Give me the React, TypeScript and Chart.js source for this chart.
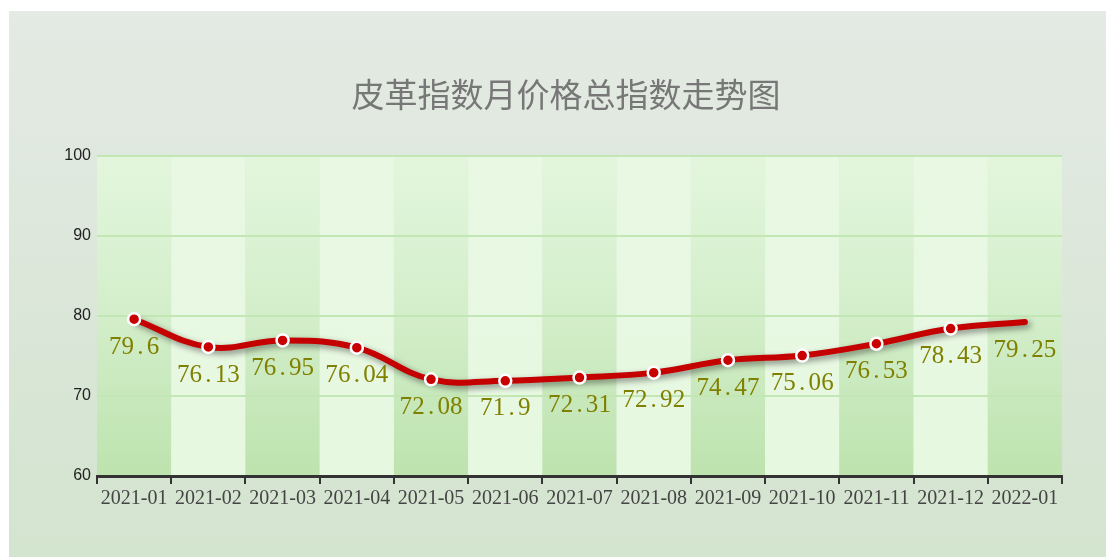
import React, { useEffect, useRef } from "react";
import { Chart, registerables } from "chart.js";

Chart.register(...registerables);

const title = "皮革指数月价格总指数走势图";
const categories = [
  "2021-01", "2021-02", "2021-03", "2021-04", "2021-05", "2021-06", "2021-07",
  "2021-08", "2021-09", "2021-10", "2021-11", "2021-12", "2022-01",
];
const values = [79.6, 76.13, 76.95, 76.04, 72.08, 71.9, 72.31, 72.92, 74.47, 75.06, 76.53, 78.43, 79.25];
const valueLabels = ["79.6", "76.13", "76.95", "76.04", "72.08", "71.9", "72.31", "72.92", "74.47", "75.06", "76.53", "78.43", "79.25"];
const yTicks = [60, 70, 80, 90, 100];

const W = 1106;
const H = 557;

const decorPlugin = {
  id: "decor",
  beforeDraw(chart: any) {
    const ctx = chart.ctx as CanvasRenderingContext2D;
    const area = chart.chartArea;
    ctx.save();
    const pg = ctx.createLinearGradient(0, 11, 0, H);
    pg.addColorStop(0, "#e4eae4");
    pg.addColorStop(1, "#d3e4cf");
    ctx.fillStyle = pg;
    ctx.fillRect(9, 11, W - 9, H - 11);
    ctx.fillStyle = "#777777";
    ctx.font = "33px 'Noto Sans CJK SC'";
    ctx.textAlign = "center";
    ctx.textBaseline = "middle";
    ctx.fillText(title, 566, 94);
    const xs = chart.scales.x;
    const n = categories.length;
    const colW = (area.right - area.left) / n;
    for (let i = 0; i < n; i++) {
      const cx = xs.getPixelForValue(i);
      const x0 = cx - colW / 2;
      const g = ctx.createLinearGradient(0, area.top, 0, area.bottom);
      if (i % 2 === 0) {
        g.addColorStop(0, "#e3f6dd");
        g.addColorStop(0.5, "#d3eeca");
        g.addColorStop(1, "#bde3ae");
      } else {
        g.addColorStop(0, "#e8f8e3");
        g.addColorStop(1, "#e7f8e1");
      }
      ctx.fillStyle = g;
      ctx.fillRect(x0, area.top, colW, area.bottom - area.top);
    }
    ctx.restore();
  },
  beforeDatasetDraw(chart: any, args: any) {
    if (args.index === 0) {
      const ctx = chart.ctx as CanvasRenderingContext2D;
      ctx.save();
      ctx.shadowColor = "rgba(0,0,0,0.45)";
      ctx.shadowBlur = 6;
      ctx.shadowOffsetX = 3;
      ctx.shadowOffsetY = 3;
    }
  },
  afterDatasetDraw(chart: any, args: any) {
    if (args.index === 0) {
      chart.ctx.restore();
    }
  },
  afterDatasetsDraw(chart: any) {
    const ctx = chart.ctx as CanvasRenderingContext2D;
    const meta = chart.getDatasetMeta(0);
    ctx.save();
    ctx.fillStyle = "#808000";
    ctx.font = "25px 'Liberation Serif'";
    ctx.textAlign = "center";
    ctx.textBaseline = "middle";
    const adv = 12.6;
    meta.data.forEach((pt: any, i: number) => {
      const txt = valueLabels[i];
      const total = txt.length * adv;
      const x0 = pt.x - total / 2;
      const y = pt.y + 28;
      for (let k = 0; k < txt.length; k++) {
        ctx.fillText(txt[k], x0 + adv * k + adv / 2, y);
      }
    });
    ctx.restore();
  },
};

export default function App() {
  const ref = useRef<HTMLCanvasElement | null>(null);
  useEffect(() => {
    if (!ref.current) return;
    const pointRadius = values.map((_, i) => (i === values.length - 1 ? 0 : 6));
    const chart = new Chart(ref.current, {
      type: "line",
      data: {
        labels: categories,
        datasets: [
          {
            data: values,
            borderColor: "#c40000",
            borderWidth: 6,
            tension: 0.4,
            pointRadius: 0,
            fill: false,
            borderCapStyle: "round",
            order: 2,
          },
          {
            data: values,
            showLine: false,
            pointRadius: pointRadius,
            pointBackgroundColor: "#c80000",
            pointBorderColor: "#ffffff",
            pointBorderWidth: 2.5,
            order: 1,
          },
        ],
      },
      options: {
        responsive: false,
        animation: false,
        events: [],
        layout: { padding: { left: 0, top: 156, right: W - 1062, bottom: 0 } },
        plugins: { legend: { display: false }, title: { display: false }, tooltip: { enabled: false } },
        scales: {
          x: {
            offset: true,
            grid: {
              offset: true,
              drawOnChartArea: false,
              drawTicks: true,
              tickLength: 8,
              color: "#333333",
              lineWidth: 2,
            },
            border: { display: true, color: "#333333", width: 3 },
            ticks: {
              color: "#444444",
              font: { family: "'Liberation Serif'", size: 20 },
              padding: 3,
              maxRotation: 0,
              autoSkip: false,
            },
            afterFit(scale: any) {
              scale.height = H - 476;
            },
          },
          y: {
            min: 60,
            max: 100,
            afterBuildTicks(scale: any) {
              scale.ticks = yTicks.map((v) => ({ value: v }));
            },
            grid: {
              drawTicks: false,
              color: (c: any) => (c.tick && c.tick.value === 60 ? "rgba(0,0,0,0)" : "#c2e6b4"),
              lineWidth: 2,
            },
            border: { display: false },
            ticks: {
              color: "#222222",
              font: { family: "'Liberation Sans'", size: 16 },
              padding: 6,
            },
            afterFit(scale: any) {
              scale.width = 97;
            },
          },
        },
      },
      plugins: [decorPlugin],
    } as any);
    return () => chart.destroy();
  }, []);
  return (
    <canvas
      ref={ref}
      width={W}
      height={H}
      style={{ position: "absolute", left: 0, top: 0, width: W, height: H, display: "block" }}
    />
  );
}
